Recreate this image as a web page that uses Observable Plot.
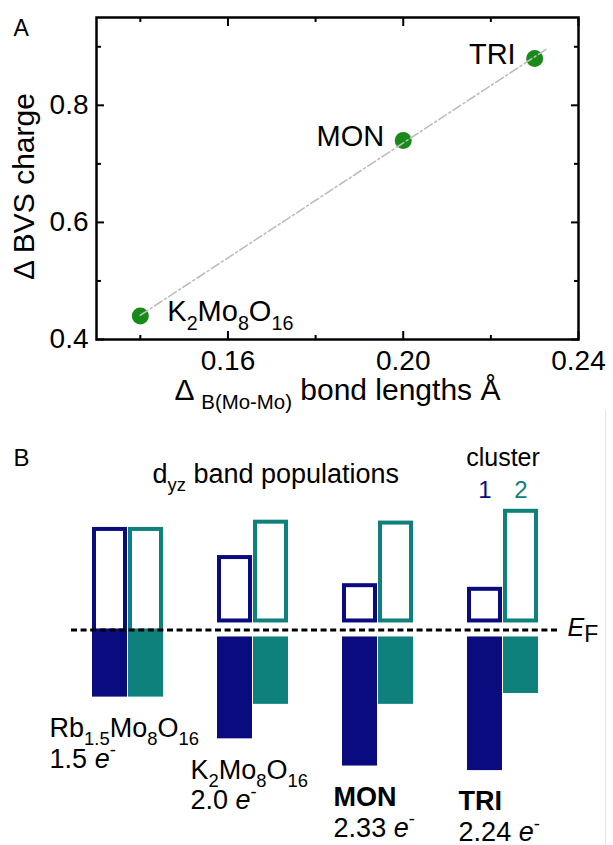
<!DOCTYPE html>
<html><head><meta charset="utf-8">
<script src="https://cdn.jsdelivr.net/npm/d3@7"></script>
<script src="https://cdn.jsdelivr.net/npm/@observablehq/plot@0.6"></script>
<style>
html,body{margin:0;padding:0;background:#fff;}
#wrap{position:relative;width:613px;height:845px;font-family:"Liberation Sans",Arial,sans-serif;overflow:hidden;}
#a{position:absolute;left:0;top:0;}
#b{position:absolute;left:0;top:420px;}
#edge{position:absolute;left:605px;top:410px;width:1px;height:435px;background:#e4e4e4;}
</style></head><body>
<div id="wrap"><div id="a"></div><div id="b"></div><div id="edge"></div></div>
<script>
// ---------- Panel A data ----------
const samples   = ["K_{2}Mo_{8}O_{16}", "MON", "TRI"];
const bondDelta = [0.14, 0.20, 0.23];
const bvsDelta  = [0.44, 0.74, 0.88];
const fitExtent = [0.14, 0.233];
const xMajor = [0.16, 0.20, 0.24];
const xMinor = [0.14, 0.18, 0.22];
const yMajor = [0.4, 0.6, 0.8];
const yMinor = [0.5, 0.7, 0.9];

// ---------- Panel B data ----------
const compoundKeys   = ["Rb1.5Mo8O16", "K2Mo8O16", "MON", "TRI"];
const compoundLabels = ["Rb_{1.5}Mo_{8}O_{16}", "K_{2}Mo_{8}O_{16}", "!{MON}", "!{TRI}"];
const electrons      = ["1.5", "2.0", "2.33", "2.24"];
const clusters  = ["1", "2"];
const occupied1 = [0.74, 1.20, 1.50, 1.55];
const occupied2 = [0.74, 0.82, 0.82, 0.70];
const empty1    = [1.13, 0.82, 0.51, 0.47];
const empty2    = [1.13, 1.21, 1.20, 1.33];

const FONT = '"Liberation Sans", Arial, Helvetica, sans-serif';
const NAVY = "#0b0b80", TEAL = "#0f817c", GREEN = "#178a17";

// rich text: _{sub} ^{sup} v{lowered, near full size} *{italic} !{bold}
function richify(svg) {
  const NS = "http://www.w3.org/2000/svg";
  svg.querySelectorAll("text, tspan").forEach(el => {
    if (el.children.length) return;
    const s = el.textContent;
    if (!/[_^v*!]\{/.test(s)) return;
    const fs = parseFloat(getComputedStyle(el).fontSize);
    el.textContent = "";
    const re = /([_^v*!])\{([^}]*)\}/g;
    let last = 0, m, shift = 0;
    const add = (txt, kind) => {
      const t = document.createElementNS(NS, "tspan");
      t.textContent = txt;
      let target = 0;
      if (kind === "_") { t.setAttribute("font-size", (fs * 0.68).toFixed(1)); target = fs * 0.3; }
      if (kind === "^") { t.setAttribute("font-size", (fs * 0.68).toFixed(1)); target = -fs * 0.42; }
      if (kind === "v") { t.setAttribute("font-size", (fs * 0.92).toFixed(1)); target = fs * 0.25; }
      if (kind === "*") t.setAttribute("font-style", "italic");
      if (kind === "!") t.setAttribute("font-weight", "bold");
      const dy = target - shift;
      if (dy) t.setAttribute("dy", dy.toFixed(2));
      shift = target;
      el.appendChild(t);
    };
    while ((m = re.exec(s))) {
      if (m.index > last) add(s.slice(last, m.index), "");
      add(m[2], m[1]);
      last = re.lastIndex;
    }
    if (last < s.length) add(s.slice(last), "");
    if (shift) add(" ", "");
  });
}

// ---------- Panel A ----------
const pts = samples.map((s, i) => ({label: s, x: bondDelta[i], y: bvsDelta[i]}));
const mx = d3.mean(bondDelta), my = d3.mean(bvsDelta);
const slope = d3.sum(pts, p => (p.x - mx) * (p.y - my)) / d3.sum(pts, p => (p.x - mx) ** 2);
const icpt = my - slope * mx;
const fit = fitExtent.map(x => ({x, y: icpt + slope * x}));

const chartA = Plot.plot({
  width: 613, height: 420,
  marginLeft: 96, marginRight: 35, marginTop: 17, marginBottom: 81,
  style: {fontFamily: FONT, background: "white", color: "black", overflow: "visible"},
  x: {domain: [0.13, 0.24]},
  y: {domain: [0.4, 0.95]},
  marks: [
    Plot.axisX(xMajor, {anchor: "bottom", tickSize: -8, tickPadding: 19, strokeWidth: 2, tickFormat: d3.format(".2f"), label: null, fontSize: 28}),
    Plot.axisX(xMinor, {anchor: "bottom", tickSize: -4, strokeWidth: 2, fill: "none", label: null}),
    Plot.axisX(xMajor, {anchor: "top", tickSize: -8, strokeWidth: 2, fill: "none", label: null}),
    Plot.axisX(xMinor, {anchor: "top", tickSize: -4, strokeWidth: 2, fill: "none", label: null}),
    Plot.axisY(yMajor, {anchor: "left", tickSize: -8, tickPadding: 16, strokeWidth: 2, tickFormat: d3.format(".1f"), label: null, fontSize: 28}),
    Plot.axisY(yMinor, {anchor: "left", tickSize: -5, strokeWidth: 2, fill: "none", label: null}),
    Plot.axisY(yMajor, {anchor: "right", tickSize: -8, strokeWidth: 2, fill: "none", label: null}),
    Plot.axisY(yMinor, {anchor: "right", tickSize: -5, strokeWidth: 2, fill: "none", label: null}),
    Plot.frame({stroke: "black", strokeWidth: 2.5}),
    Plot.dot(pts, {x: "x", y: "y", r: 8.5, fill: GREEN}),
    Plot.line(fit, {x: "x", y: "y", stroke: "#bdbdbd", strokeWidth: 1.6, strokeDasharray: "9,3,2,3"}),
    Plot.text(pts, {filter: p => p.x > 0.15, x: "x", y: "y", text: "label", textAnchor: "end", dx: -19, dy: -4, fontSize: 29}),
    Plot.text(pts, {filter: p => p.x <= 0.15, x: "x", y: "y", text: "label", textAnchor: "start", dx: 27, dy: -4, fontSize: 29}),
    Plot.text(["Δ _{B(Mo-Mo)} bond lengths Å"], {text: d => d, frameAnchor: "bottom", textAnchor: "middle", lineAnchor: "bottom", dy: 60, fontSize: 30}),
    Plot.text(["Δ BVS charge"], {text: d => d, frameAnchor: "left", textAnchor: "middle", rotate: -90, lineAnchor: "bottom", dx: -63, dy: 8, fontSize: 30}),
    Plot.text(["A"], {text: d => d, frameAnchor: "top-left", textAnchor: "start", lineAnchor: "bottom", dx: -83, dy: 18, fontSize: 23})
  ]
});
document.getElementById("a").append(chartA);
richify(chartA);

// ---------- Panel B ----------
const rowsEmpty = [], rowsOcc = [];
compoundKeys.forEach((c, i) => {
  rowsEmpty.push({compound: c, cluster: clusters[0], value: empty1[i]}, {compound: c, cluster: clusters[1], value: empty2[i]});
  rowsOcc.push({compound: c, cluster: clusters[0], value: occupied1[i]}, {compound: c, cluster: clusters[1], value: occupied2[i]});
});
const rowsLabel = compoundKeys.map((c, i) => ({
  compound: c,
  text: compoundLabels[i] + "\n" + electrons[i] + " *{e}^{-}",
  low: -Math.max(occupied1[i], occupied2[i])
}));
const legendCompound = compoundKeys[3];
const isFirst = d => d.compound === compoundKeys[0];

// band layout: each compound band is split into one half per cluster
const W_B = 613, ML_B = 71, MR_B = 53, PAD_IN = 0.4286, PAD_OUT = 0.155;
const step = (W_B - ML_B - MR_B) / (compoundKeys.length - PAD_IN + 2 * PAD_OUT);
const half = step * (1 - PAD_IN) / 2;
const side = c => c === clusters[0] ? [0, half] : [half, 0];

const barMarks = [];
for (const c of clusters) for (const first of [true, false]) {
  const [l, r] = side(c);
  barMarks.push(Plot.barY(rowsEmpty, {
    filter: d => d.cluster === c && isFirst(d) === first,
    x: "compound", y1: 0, y2: "value", fill: "white", stroke: "cluster", strokeWidth: 4,
    insetLeft: l + 2, insetRight: r + 2, insetTop: 2, insetBottom: first ? -1 : 9
  }));
}
for (const c of clusters) for (const first of [true, false]) {
  const [l, r] = side(c);
  barMarks.push(Plot.barY(rowsOcc, {
    filter: d => d.cluster === c && isFirst(d) === first,
    x: "compound", y1: 0, y2: d => -d.value, fill: "cluster",
    insetLeft: l, insetRight: r, insetTop: first ? 0 : 7
  }));
}

const chartB = Plot.plot({
  width: W_B, height: 425,
  marginLeft: ML_B, marginRight: MR_B, marginTop: 28, marginBottom: 25,
  style: {fontFamily: FONT, background: "white", color: "black", overflow: "visible"},
  x: {domain: compoundKeys, paddingInner: PAD_IN, paddingOuter: PAD_OUT, axis: null},
  y: {domain: [-2.1, 2.0], axis: null},
  color: {domain: clusters, range: [NAVY, TEAL]},
  marks: [
    ...barMarks,
    Plot.ruleY([0], {stroke: "black", strokeWidth: 3, strokeDasharray: "6,3.6"}),
    Plot.text([0], {y: d => d, text: () => "*{E}v{F}", frameAnchor: "right", textAnchor: "start", dx: 7, dy: -2, fontSize: 25}),
    Plot.text(rowsLabel, {x: "compound", y: "low", text: "text", textAnchor: "start", lineAnchor: "top", dy: 18, lineHeight: 1.14, fontSize: 27, ariaLabel: () => "compound-label"}),
    ...clusters.map(c => Plot.text([{compound: legendCompound, cluster: c}], {
      x: "compound", text: "cluster", fill: "cluster", frameAnchor: "top", lineAnchor: "bottom",
      dx: (side(c)[0] - side(c)[1]) / 2, dy: 49, fontSize: 24
    })),
    Plot.text([{compound: legendCompound}], {x: "compound", text: () => "cluster", frameAnchor: "top", lineAnchor: "bottom", dy: 17, fontSize: 25}),
    Plot.text(["d_{yz} band populations"], {text: d => d, frameAnchor: "top-left", textAnchor: "start", lineAnchor: "bottom", dx: 81, dy: 34, fontSize: 27}),
    Plot.text(["B"], {text: d => d, frameAnchor: "top-left", textAnchor: "start", lineAnchor: "bottom", dx: -58, dy: 17, fontSize: 24})
  ]
});
document.getElementById("b").append(chartB);
richify(chartB);
chartB.querySelectorAll('text[aria-label="compound-label"]').forEach(t => {
  const w = t.getBBox().width;
  t.setAttribute("transform", (t.getAttribute("transform") || "") + ` translate(${(-w / 2).toFixed(1)},0)`);
});
</script>
</body></html>
